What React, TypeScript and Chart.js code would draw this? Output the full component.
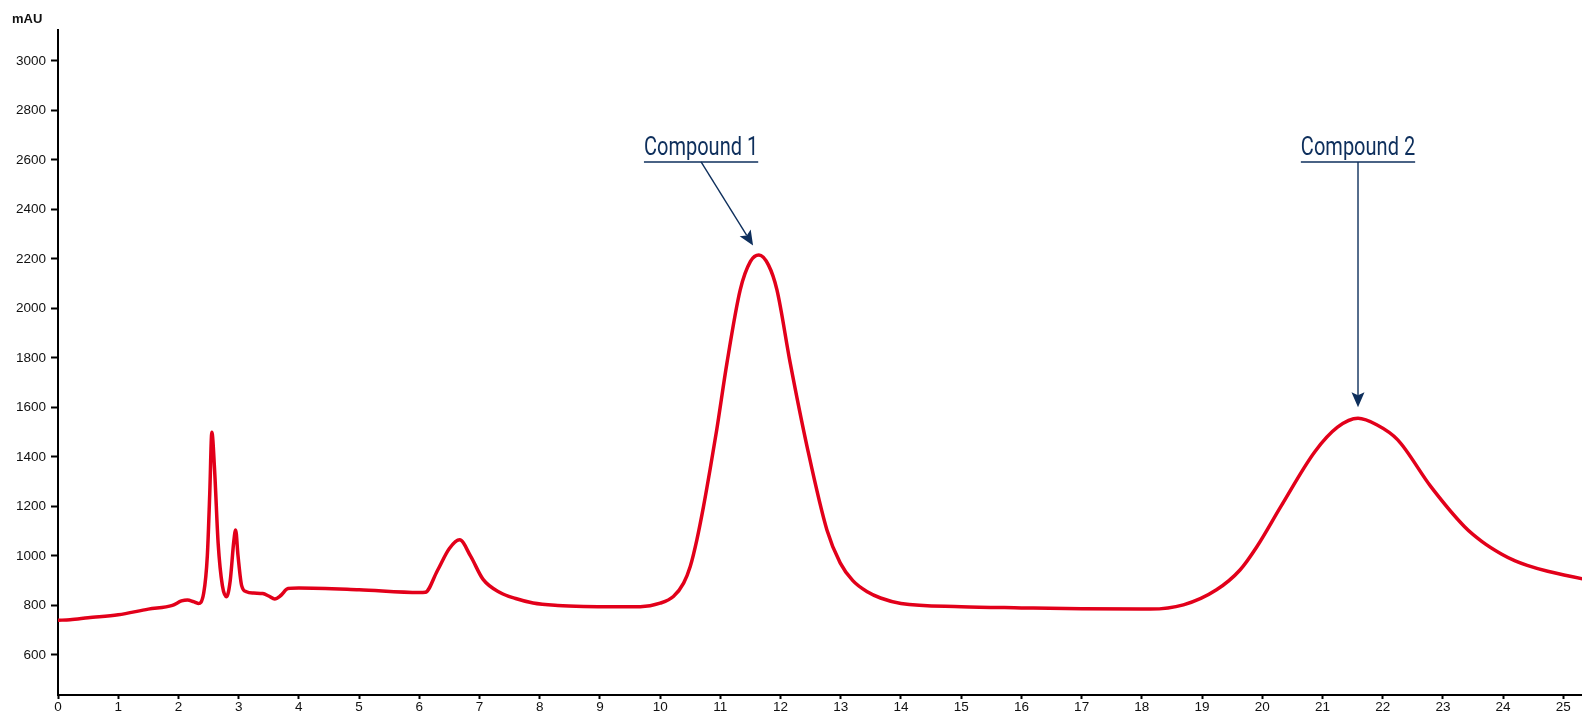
import { useEffect, useRef } from 'react';
import { Chart, registerables } from 'chart.js';

Chart.register(...registerables);

// retention time (min) and absorbance (mAU)
const retentionTimes = [
  0, 0.2, 0.5, 1.0, 1.5, 1.9, 2.05, 2.15, 2.25, 2.33, 2.42, 2.48, 2.52, 2.555, 2.6, 2.66, 2.73,
  2.8, 2.86, 2.92, 2.95, 2.99, 3.05, 3.13, 3.25, 3.4, 3.5, 3.6, 3.7, 3.82, 4.0, 5.0, 6.0, 6.1,
  6.3, 6.5, 6.67, 6.85, 7.06, 7.34, 7.6, 7.89, 8.3, 8.73, 9.3, 9.67, 10.0, 10.22, 10.39, 10.5,
  10.61, 10.72, 10.83, 10.94, 11.11, 11.33, 11.5, 11.64, 11.8, 11.94, 12.16, 12.44, 12.77, 12.99,
  13.2, 13.44, 13.66, 14.0, 15.0, 16.0, 17.0, 18.14, 18.69, 19.24, 19.63, 19.91, 20.31,
  20.87, 21.25, 21.59, 21.9, 22.25, 22.8, 23.36, 23.65, 23.97, 24.2, 24.4, 24.74, 25.33,
];
const absorbance = [
  740, 742, 750, 762, 785, 800, 818, 822, 815, 808, 850, 1000, 1250, 1500, 1350, 1050, 880,
  835, 900, 1060, 1105, 1000, 880, 855, 850, 848, 838, 826, 840, 868, 870, 863, 852, 853,
  940, 1030, 1065, 1000, 905, 852, 828, 810, 800, 796, 795, 795, 809, 836, 890, 957,
  1065, 1199, 1350, 1510, 1780, 2075, 2190, 2216, 2175, 2075, 1780, 1442, 1105, 972,
  900, 855, 830, 808, 795, 790, 786, 785, 802, 863, 943, 1037, 1200,
  1420, 1520, 1556, 1530, 1469, 1280, 1118, 1058, 1008, 980, 962, 938, 907,
];

const xTicks = [0, 1, 2, 3, 4, 5, 6, 7, 8, 9, 10, 11, 12, 13, 14, 15, 16, 17, 18, 19, 20, 21, 22, 23, 24, 25];
const yTicks = [600, 800, 1000, 1200, 1400, 1600, 1800, 2000, 2200, 2400, 2600, 2800, 3000];

// peak labels
const peakNames = ['Compound 1', 'Compound 2'];
const peakTimes = [11.64, 21.59];
const peakHeights = [2216, 1556];
const labelTimes = [10.68, 21.59];
const labelLevel = 2592;

const NAVY = '#0e2f5c';

const annotationPlugin = {
  id: 'peakNotes',
  afterDatasetsDraw(chart: Chart) {
    const { ctx, scales } = chart;
    const xs = scales.x;
    const ys = scales.y;

    // axis unit
    ctx.save();
    ctx.fillStyle = '#111';
    ctx.font = 'bold 13px "Liberation Sans", Arial, sans-serif';
    ctx.textAlign = 'left';
    ctx.textBaseline = 'alphabetic';
    ctx.fillText('mAU', 12, 23);
    ctx.restore();

    peakNames.forEach((name, i) => {
      const cx = xs.getPixelForValue(labelTimes[i]);
      const uy = ys.getPixelForValue(labelLevel);
      const px = xs.getPixelForValue(peakTimes[i]);
      const py = ys.getPixelForValue(peakHeights[i]);

      ctx.save();
      ctx.fillStyle = NAVY;
      ctx.strokeStyle = NAVY;
      ctx.font = '26px Roboto, "Noto Sans", sans-serif';
      const sx = 0.77;
      const w = ctx.measureText(name).width * sx;
      ctx.save();
      ctx.translate(cx, uy - 7);
      ctx.scale(sx, 1);
      ctx.textAlign = 'center';
      ctx.textBaseline = 'alphabetic';
      ctx.fillText(name, 0, 0);
      ctx.restore();

      ctx.lineWidth = 1.5;
      ctx.beginPath();
      ctx.moveTo(cx - w / 2, uy);
      ctx.lineTo(cx + w / 2, uy);
      ctx.stroke();

      // arrow from underline to just above the peak
      const dx = px - cx;
      const dy = py - uy;
      const len = Math.sqrt(dx * dx + dy * dy);
      const ux = dx / len;
      const uyn = dy / len;
      const tx = px - ux * 11;
      const ty = py - uyn * 11;
      const head = 15;
      const half = 6.5;
      const bx = tx - ux * head;
      const by = ty - uyn * head;
      ctx.lineWidth = 1.4;
      ctx.beginPath();
      ctx.moveTo(cx, uy);
      ctx.lineTo(bx + ux * 3, by + uyn * 3);
      ctx.stroke();
      ctx.beginPath();
      ctx.moveTo(tx, ty);
      ctx.lineTo(bx - uyn * half, by + ux * half);
      ctx.lineTo(bx + ux * 3, by + uyn * 3);
      ctx.lineTo(bx + uyn * half, by - ux * half);
      ctx.closePath();
      ctx.fill();
      ctx.restore();
    });
  },
};

export default function App() {
  const canvasRef = useRef<HTMLCanvasElement>(null);

  useEffect(() => {
    if (!canvasRef.current) return;
    Chart.defaults.font.family = '"Liberation Sans", Arial, sans-serif';

    const points = retentionTimes.map((t, i) => ({ x: t, y: absorbance[i] }));

    const chart = new Chart(canvasRef.current, {
      type: 'line',
      data: {
        datasets: [
          {
            data: points,
            borderColor: '#e2001a',
            borderWidth: 3.5,
            pointRadius: 0,
            cubicInterpolationMode: 'monotone',
            fill: false,
          },
        ],
      },
      options: {
        animation: false,
        responsive: true,
        maintainAspectRatio: false,
        layout: { padding: { top: 30, left: 0, right: 0, bottom: 0 } },
        plugins: {
          legend: { display: false },
          tooltip: { enabled: false },
        },
        scales: {
          x: {
            type: 'linear',
            min: 0,
            max: 25.31,
            afterBuildTicks: (scale: any) => {
              scale.ticks = xTicks.map((v) => ({ value: v }));
            },
            afterFit: (scale: any) => {
              scale.height = 20;
            },
            border: { color: '#000', width: 2 },
            grid: { drawOnChartArea: false, color: '#000', tickLength: 4, tickWidth: 2 },
            ticks: {
              color: '#111',
              font: { size: 13.5 },
              padding: 0,
              maxRotation: 0,
              autoSkip: false,
              callback: (v: any) => String(v),
            },
          },
          y: {
            min: 438,
            max: 3125,
            afterBuildTicks: (scale: any) => {
              scale.ticks = yTicks.map((v) => ({ value: v }));
            },
            afterFit: (scale: any) => {
              scale.width = 58;
            },
            border: { color: '#000', width: 2 },
            grid: { drawOnChartArea: false, color: '#000', tickLength: 7, tickWidth: 2 },
            ticks: {
              color: '#111',
              font: { size: 13.5 },
              padding: 5,
              autoSkip: false,
              callback: (v: any) => String(v),
            },
          },
        },
      },
      plugins: [annotationPlugin],
    });

    return () => {
      chart.destroy();
    };
  }, []);

  return (
    <div style={{ position: 'fixed', left: 0, top: 0, width: 1582, height: 715, background: '#fff' }}>
      <canvas ref={canvasRef} />
    </div>
  );
}
